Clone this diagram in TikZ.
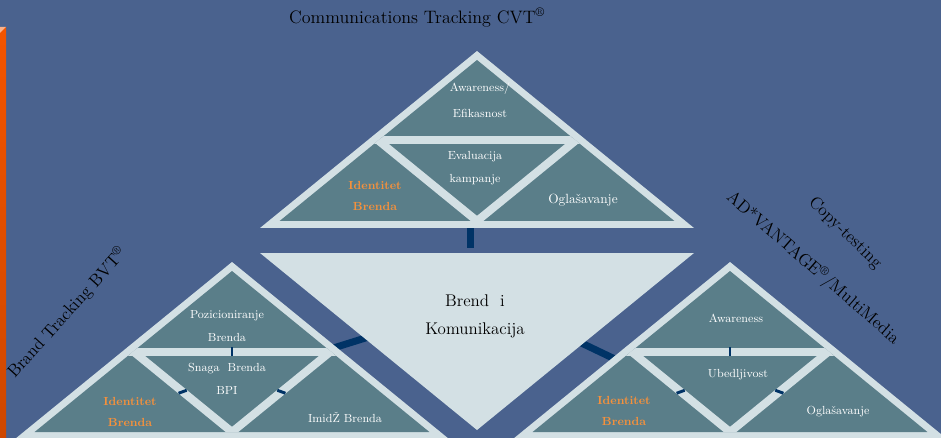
\documentclass[tikz,border=0pt]{standalone}
\usepackage{fontspec}
\usepackage{xcolor}
\usetikzlibrary{calc}
\definecolor{bgblue}{RGB}{74,98,142}
\definecolor{pyrteal}{RGB}{90,126,137}
\definecolor{pyrlight}{RGB}{211,224,228}
\definecolor{barnavy}{RGB}{0,51,102}
\definecolor{brandorange}{RGB}{245,145,60}
\definecolor{edgeorange}{RGB}{242,84,0}
\tikzset{%
  strip/.style={pyrlight, line width=6pt},
  bigbar/.style={barnavy, line width=5.25pt},
  tickbar/.style={fill=barnavy, inner sep=0pt, minimum width=6.5pt, minimum height=2.2pt},
  subtxt/.style={text=white, align=center, font=\fontsize{8.8}{17}\selectfont},
  identtxt/.style={text=brandorange, align=center, font=\fontsize{8.8}{16}\selectfont\bfseries},
  headtxt/.style={text=black, align=center, font=\fontsize{13}{15}\selectfont}
}

\begin{document}
\begin{tikzpicture}[x=.75pt,y=-.75pt]
\useasboundingbox (0,0) rectangle (941,438);
\clip (0,0) rectangle (941,438);
\fill[bgblue] (0,0) rectangle (941,438);
% orange edge
\shade[top color=edgeorange, bottom color=edgeorange!85!black] (0,28) rectangle (6,438);
\fill[edgeorange!45!white] (0,27) -- (6,27) -- (3,30) -- (0,33) -- cycle;
%
% links to the middle (drawn first, shapes cover their ends)
\coordinate (toplink-a) at (470,222);
\coordinate (toplink-b) at (470,248);
\coordinate (lftlink-a) at (327,350);
\coordinate (lftlink-b) at (375,335);
\coordinate (rgtlink-a) at (573,339);
\coordinate (rgtlink-b) at (619,361);
\draw[bigbar] (toplink-a) -- (toplink-b);
\draw[bigbar] (lftlink-a) -- (lftlink-b);
\draw[bigbar] (rgtlink-a) -- (rgtlink-b);
%
% middle triangle
\coordinate (cen-l) at (260,253);
\coordinate (cen-r) at (694,253);
\coordinate (cen-b) at (477,430);
\fill[pyrlight] (cen-l) -- (cen-r) -- (cen-b) -- cycle;
%
% the three pyramids
\foreach \n/\ax/\ay in {cvt/477/51, bvt/232/262, adv/730/262}{
  \coordinate (\n-apex) at (\ax,\ay);
  \coordinate (\n-ml) at (\ax-98.7,\ay+89.5);
  \coordinate (\n-mr) at (\ax+98.7,\ay+89.5);
  \coordinate (\n-mc) at (\ax,\ay+89.5);
  \coordinate (\n-mb) at (\ax,\ay+170);
  \fill[pyrlight] (\n-apex) -- ++(-217,177) -- ++(434,0) -- cycle;
  \fill[pyrteal] (\ax,\ay+9) -- ++(-197.4,161) -- ++(394.8,0) -- cycle;
  \begin{scope}
    \clip (\ax,\ay+9) -- ++(-197.4,161) -- ++(394.8,0) -- cycle;
    \draw[strip] ($(\n-ml)!-0.2!(\n-mr)$) -- ($(\n-mr)!-0.2!(\n-ml)$);
    \draw[strip] ($(\n-ml)!-0.2!(\n-mb)$) -- ($(\n-mb)!-0.2!(\n-ml)$);
    \draw[strip] ($(\n-mr)!-0.2!(\n-mb)$) -- ($(\n-mb)!-0.2!(\n-mr)$);
  \end{scope}
}
\foreach \n in {bvt,adv}{
  \node[tickbar, minimum width=2.2pt, minimum height=6.5pt] at (\n-mc) {};
  \node[tickbar, rotate=20] at ($(\n-ml)!0.5!(\n-mb)$) {};
  \node[tickbar, rotate=-20] at ($(\n-mr)!0.5!(\n-mb)$) {};
}
%
% texts
\node[headtxt, font=\fontsize{13.5}{15}\selectfont] (cvt-title) at (417,18) {Communications Tracking CVT\textsuperscript{\textregistered}};
\node[headtxt, rotate=48] (bvt-title) at (67,313) {Brand Tracking BVT\textsuperscript{\textregistered}};
\node[headtxt, rotate=-44] (adv-title) at (845,233) {Copy-testing};
\node[headtxt, rotate=-41] (adv-sub) at (813,268) {AD*VANTAGE\textsuperscript{\textregistered}/MultiMedia};
\node[headtxt, font=\fontsize{12.7}{21}\selectfont] (cen-txt) at (475,316) {Brend\ \ i\\Komunikacija};
%
\node[subtxt, font=\fontsize{8.8}{19}\selectfont] (cvt-aw) at (480,100) {Awareness/\\Efikasnost};
\node[subtxt] (cvt-ev) at (475,168) {Evaluacija\\kampanje};
\node[identtxt] (cvt-id) at (375,196) {Identitet\\Brenda};
\node[subtxt, font=\fontsize{10}{12}\selectfont] (cvt-og) at (583,200) {Oglašavanje};
%
\node[subtxt] (bvt-pz) at (227,326) {Pozicioniranje\\Brenda};
\node[subtxt] (bvt-sn) at (227,379) {Snaga\ \ Brenda\\BPI};
\node[identtxt] (bvt-id) at (130,412) {Identitet\\Brenda};
\node[subtxt] (bvt-im) at (345,417) {ImidŽ Brenda};
%
\node[subtxt] (adv-aw) at (736,318) {Awareness};
\node[subtxt] (adv-ub) at (738,375) {Ubedljivost};
\node[identtxt] (adv-id) at (624,411) {Identitet\\Brenda};
\node[subtxt] (adv-og) at (838,412) {Oglašavanje};
\end{tikzpicture}
\end{document}
